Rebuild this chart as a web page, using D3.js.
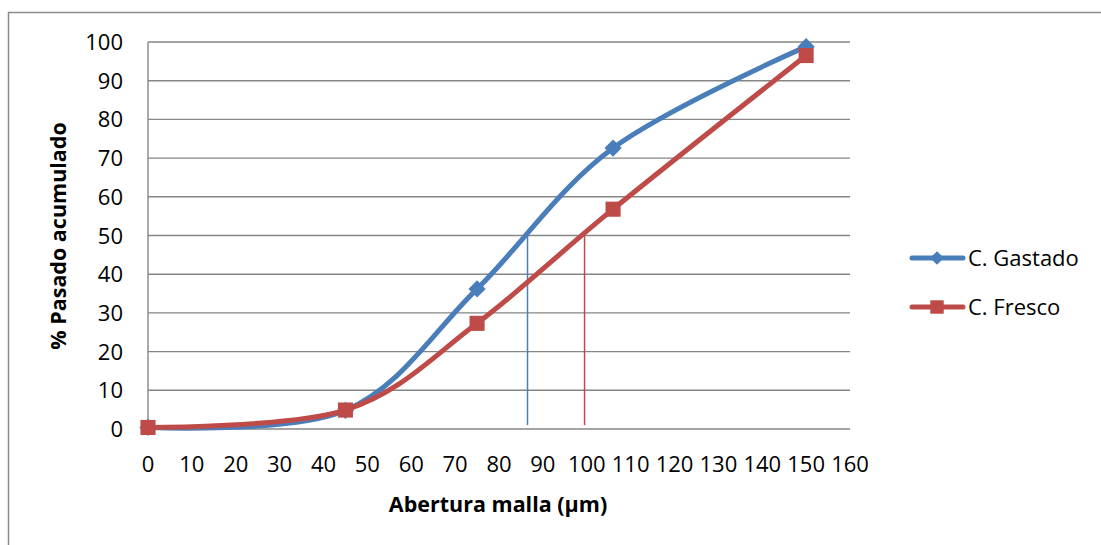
<!DOCTYPE html>
<html>
<head>
<meta charset="utf-8">
<script src="https://cdn.jsdelivr.net/npm/d3@7"></script>
<style>
  body { margin: 0; background: #fff; }
  text { font-family: "Open Sans", sans-serif; fill: #000; }
</style>
</head>
<body>
<div id="chart-area"></div>
<script>
// data
var seriesNames = ["C. Gastado", "C. Fresco"];
var seriesColors = ["#4a7ebb", "#be4b48"];
var abertura = [0, 45, 75, 106, 150];
var gastado = [0.4, 4.8, 36.2, 72.6, 98.8];
var fresco = [0.4, 4.9, 27.3, 56.8, 96.5];
// drop lines at the 50 % passing size
var d50x = [86.5, 99.5];
var d50y = [50, 50];
var xTicks = d3.range(0, 161, 10);
var yTicks = d3.range(0, 101, 10);

var width = 1101, height = 545;
var plot = {left: 148, top: 42, right: 850, bottom: 429};

var svg = d3.select("#chart-area").append("svg")
    .attr("width", width)
    .attr("height", height);

// chart border (runs off the right/bottom edge in the reference)
svg.append("rect")
    .attr("x", 8.5).attr("y", 12.5)
    .attr("width", 1200).attr("height", 700)
    .attr("fill", "none")
    .attr("stroke", "#8c8c8c")
    .attr("stroke-width", 1.5);

var x = d3.scaleLinear().domain([0, 160]).range([plot.left, plot.right]);
var y = d3.scaleLinear().domain([0, 100]).range([plot.bottom, plot.top]);

// horizontal gridlines
svg.append("g").selectAll("line")
    .data(yTicks)
    .enter().append("line")
    .attr("x1", plot.left).attr("x2", plot.right)
    .attr("y1", (d) => y(d)).attr("y2", (d) => y(d))
    .attr("stroke", "#868686")
    .attr("stroke-width", 1.4);

// y axis line
svg.append("line")
    .attr("x1", plot.left).attr("x2", plot.left)
    .attr("y1", plot.top).attr("y2", plot.bottom)
    .attr("stroke", "#868686")
    .attr("stroke-width", 1.4);

// tick labels
svg.append("g").selectAll("text")
    .data(yTicks)
    .enter().append("text")
    .attr("x", 123)
    .attr("y", (d) => y(d) + 8)
    .attr("text-anchor", "end")
    .attr("font-size", "22px")
    .text((d) => d);

svg.append("g").selectAll("text")
    .data(xTicks)
    .enter().append("text")
    .attr("x", (d) => x(d))
    .attr("y", 472)
    .attr("text-anchor", "middle")
    .attr("font-size", "22px")
    .text((d) => d);

// axis titles
svg.append("text")
    .attr("x", 498)
    .attr("y", 512)
    .attr("text-anchor", "middle")
    .attr("font-size", "21.5px")
    .attr("font-weight", "bold")
    .text("Abertura malla (µm)");

svg.append("text")
    .attr("transform", "translate(66,236) rotate(-90)")
    .attr("text-anchor", "middle")
    .attr("font-size", "21.5px")
    .attr("font-weight", "bold")
    .text("% Pasado acumulado");

// D50 drop lines
d50x.forEach((v, i) => {
    svg.append("line")
        .attr("x1", x(v)).attr("x2", x(v))
        .attr("y1", y(1)).attr("y2", y(d50y[i]))
        .attr("stroke", seriesColors[i])
        .attr("stroke-width", 1.5);
});

var line = d3.line()
    .x((d) => x(d[0]))
    .y((d) => y(d[1]))
    .curve(d3.curveCatmullRom.alpha(0));

var series = [gastado, fresco].map((vals) => abertura.map((a, i) => [a, vals[i]]));

var diamond = d3.symbol().type(d3.symbolDiamond2).size(190);
var square = d3.symbol().type(d3.symbolSquare2).size(290);
var legDiamond = d3.symbol().type(d3.symbolDiamond2).size(120);
var legSquare = d3.symbol().type(d3.symbolSquare2).size(230);

series.forEach((pts, i) => {
    svg.append("path")
        .datum(pts)
        .attr("d", line)
        .attr("fill", "none")
        .attr("stroke", seriesColors[i])
        .attr("stroke-width", 5)
        .attr("stroke-linecap", "round");

    svg.append("g").selectAll("path")
        .data(pts)
        .enter().append("path")
        .attr("transform", (d) => "translate(" + x(d[0]) + "," + y(d[1]) + ")")
        .attr("d", i == 0 ? diamond : square)
        .attr("fill", seriesColors[i]);
});

// legend
var legend = svg.append("g");
seriesNames.forEach((name, i) => {
    var row = legend.append("g")
        .attr("transform", "translate(910," + (258 + i * 49) + ")");
    row.append("line")
        .attr("x1", 2).attr("x2", 53)
        .attr("stroke", seriesColors[i])
        .attr("stroke-width", 5)
        .attr("stroke-linecap", "round");
    row.append("path")
        .attr("transform", "translate(27,0)")
        .attr("d", i == 0 ? legDiamond : legSquare)
        .attr("fill", seriesColors[i]);
    row.append("text")
        .attr("x", 58)
        .attr("y", 8)
        .attr("font-size", "22px")
        .text(name);
});
</script>
</body>
</html>
